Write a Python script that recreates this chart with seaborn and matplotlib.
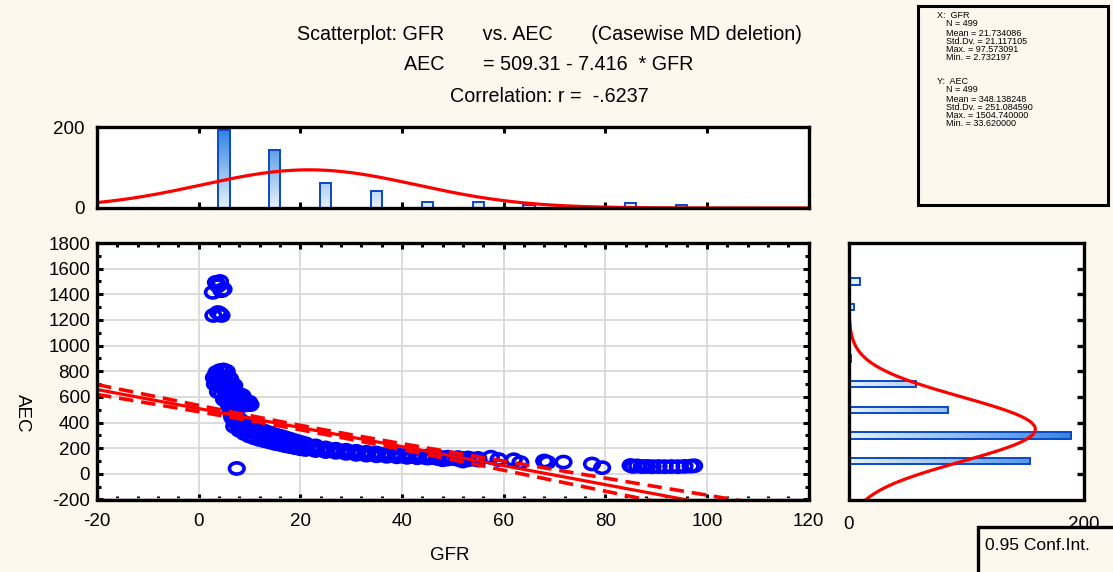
import numpy as np
import matplotlib
matplotlib.use("Agg")
import matplotlib.pyplot as plt
import seaborn as sns
from matplotlib.path import Path
from matplotlib.patches import Rectangle
from matplotlib.colors import LinearSegmentedColormap
from matplotlib.ticker import MultipleLocator

# ---------------- data ----------------
# scatter points (GFR, AEC)
gfr_values = [
    2.8, 3.4, 3.8, 4.5, 4.2, 4.9,
    2.9, 3.8, 4.5, 4.2,
    3.5, 4.2, 4.9, 5.5,
    3.0, 3.6, 4.3, 5.0, 5.8, 6.2,
    3.2, 3.9, 4.6, 5.3, 6.0, 6.6, 7.0,
    3.8, 4.5, 5.2, 5.9, 6.6, 7.3, 8.0, 8.6,
    5.0, 5.7, 6.4, 7.1, 7.8, 8.5, 9.2, 9.9,
    6.0, 6.8, 7.5, 8.2, 8.9, 9.6, 10.2,
    6.3, 6.5, 6.6,
    # band upper row
    7, 8, 9, 10, 11, 12, 13, 14, 15, 16, 17, 18, 19, 20, 21, 23, 25, 27, 29, 31, 33, 35, 37, 39, 41, 43, 45, 47, 49, 51, 53, 55,
    # band lower row
    7, 8, 9, 10, 11, 12, 13, 14, 15, 16, 17, 18, 19, 20, 21, 23, 25, 27, 29, 31, 33, 35, 37, 39, 41, 43, 45, 47, 49, 51, 53, 55,
    # band middle row
    7, 8, 9, 10, 11, 12, 13, 14, 15, 16, 17, 18, 19, 20, 21, 23, 25, 27, 29, 31, 33, 35, 37, 39, 41, 43, 45, 47, 49, 51, 53, 55,
    # band middle row, half steps
    7.5, 8.5, 9.5, 10.5, 11.5, 12.5, 13.5, 14.5, 15.5, 16.5, 17.5, 18.5, 19.5, 22, 24, 26, 28, 30, 32, 34, 36, 38, 40, 42, 44, 46, 48, 50, 52, 54,
    # tail
    48, 52, 57.5, 59, 62, 63.3, 68.0, 68.6, 71.8, 77.4, 79.4,
    85.0, 85.5, 86.3, 87.2, 88.2, 89.3, 90.5, 91.7, 93.0, 94.3, 95.6, 96.8, 97.5,
    # outlier
    7.5,
]
aec_values = [
    1415, 1493, 1467, 1428, 1500, 1440,
    1235, 1258, 1235, 1248,
    790, 805, 810, 800,
    750, 760, 745, 755, 760, 740,
    700, 690, 705, 700, 690, 700, 690,
    640, 630, 645, 635, 640, 630, 620, 610,
    580, 570, 585, 575, 580, 570, 565, 560,
    530, 520, 525, 530, 535, 540, 540,
    500, 470, 440,
    455, 425, 400, 378, 360, 345, 332, 318, 305, 294, 282, 270, 258, 246, 235, 218, 202, 192, 184, 176, 168, 162, 156, 150, 146, 142, 138, 134, 130, 127, 124, 120,
    370, 340, 315, 295, 280, 268, 258, 248, 238, 230, 220, 212, 204, 196, 190, 182, 174, 168, 160, 152, 146, 141, 137, 133, 129, 126, 123, 120, 116, 113, 110, 107,
    412, 382, 358, 336, 320, 306, 295, 283, 272, 262, 251, 241, 231, 221, 212, 200, 188, 180, 172, 164, 157, 152, 146, 142, 138, 134, 130, 127, 123, 120, 117, 114,
    395, 370, 347, 328, 313, 300, 289, 277, 267, 256, 246, 236, 226, 206, 194, 184, 176, 168, 160, 154, 149, 144, 140, 136, 132, 128, 125, 121, 118, 115,
    110, 100, 130, 112, 110, 88, 100, 90, 92, 77, 48,
    65, 58, 62, 57, 58, 56, 57, 56, 57, 56, 58, 60, 63,
    42,
]

# histogram of GFR (bin centres, counts)
gfr_bin_centers = [5, 15, 25, 35, 45, 55, 65, 75, 85, 95]
gfr_bin_counts = [192, 142, 62, 43, 16, 16, 7, 2, 12, 7]

# histogram of AEC (bin centres, counts)
aec_bin_centers = [100, 300, 500, 700, 900, 1100, 1300, 1500]
aec_bin_counts = [154, 189, 84, 57, 2, 0, 4, 9]

# descriptive statistics shown in the box
n_obs = 499
gfr_mean, gfr_sd, gfr_max, gfr_min = 21.734086, 21.117105, 97.573091, 2.732197
aec_mean, aec_sd, aec_max, aec_min = 348.138248, 251.084590, 1504.740000, 33.620000
intercept, slope, corr_r = 509.31, -7.416, -0.6237
gfr_binwidth, aec_binwidth = 10, 200

# ---------------- style ----------------
FONT = ["Liberation Sans", "DejaVu Sans"]
plt.rcParams["font.family"] = FONT
plt.rcParams["axes.unicode_minus"] = False
BG = "#fdf8ed"
BLUE = "#0000ff"
RED = "#ff0000"
EDGE = "#0a48c8"
W, H = 1113, 572
TS = 13.5

fig = plt.figure(figsize=(W / 100, H / 100), dpi=100, facecolor=BG)
ax = fig.add_axes([97 / W, 1 - 499.5 / H, 711.5 / W, 256.5 / H])
ax_top = fig.add_axes([97 / W, 1 - 208 / H, 711.5 / W, 81 / H])
ax_r = fig.add_axes([849 / W, 1 - 499.5 / H, 235 / W, 256.5 / H])

for a in (ax, ax_top, ax_r):
    a.set_facecolor("white")
    for s in a.spines.values():
        s.set_linewidth(2.4)
        s.set_color("black")
        s.set_zorder(6)

# ---------------- main scatter ----------------
circ = Path.unit_circle()
ellipse = Path(circ.vertices * np.array([1.3, 1.0]), circ.codes)

sns.scatterplot(x=gfr_values, y=aec_values, marker=ellipse, s=110,
                facecolor="none", edgecolor=BLUE, linewidth=2.6,
                ax=ax, zorder=3, legend=False)

xs = np.linspace(-20, 120, 300)
yhat = intercept + slope * xs
t_crit = 1.9648
s_res = aec_sd * np.sqrt((1 - corr_r ** 2) * (n_obs - 1) / (n_obs - 2))
sxx = (n_obs - 1) * gfr_sd ** 2
se = s_res * np.sqrt(1 / n_obs + (xs - gfr_mean) ** 2 / sxx)
sns.lineplot(x=xs, y=yhat, color=RED, linewidth=2.3, ax=ax, zorder=4,
             sort=False, estimator=None)
sns.lineplot(x=xs, y=yhat + t_crit * se, color=RED, linewidth=2.6, ax=ax, zorder=4,
             linestyle=(0, (4.0, 2.2)), sort=False, estimator=None)
sns.lineplot(x=xs, y=yhat - t_crit * se, color=RED, linewidth=2.6, ax=ax, zorder=4,
             linestyle=(0, (4.0, 2.2)), sort=False, estimator=None)

ax.set_xlim(-20, 120)
ax.set_ylim(-200, 1800)
ax.set_xticks(np.arange(-20, 121, 20))
ax.set_yticks(np.arange(-200, 1801, 200))
ax.xaxis.set_minor_locator(MultipleLocator(4))
ax.yaxis.set_minor_locator(MultipleLocator(100))
ax.tick_params(which="both", direction="in", top=True, right=True,
               width=2.2, color="black", labelsize=TS)
ax.tick_params(which="major", length=4.5)
ax.tick_params(which="minor", length=3)
ax.tick_params(axis="x", pad=10)
ax.tick_params(axis="y", pad=5)
ax.grid(True, which="major", color="#d9d9d9", linewidth=1.3)
ax.set_axisbelow(True)
ax.set_xlabel("")
ax.set_ylabel("")

# ---------------- gradient helper ----------------
cmap = LinearSegmentedColormap.from_list("bb", ["#e6f1fc", "#2c80e2"])


def shade_bars(a, vertical, vmax):
    for p in list(a.patches):
        x0, y0, w, h = p.get_x(), p.get_y(), p.get_width(), p.get_height()
        if w == 0 or h == 0:
            continue
        if vertical:
            grad = np.linspace(0, (y0 + h) / vmax, 60).reshape(-1, 1)
        else:
            grad = np.linspace(0, (x0 + w) / vmax, 60).reshape(1, -1)
        a.imshow(grad, cmap=cmap, vmin=0, vmax=1, extent=[x0, x0 + w, y0, y0 + h],
                 origin="lower", aspect="auto", interpolation="bilinear", zorder=1.5)
        p.set_facecolor("none")
        p.set_zorder(2)


# ---------------- top histogram ----------------
sns.barplot(x=gfr_bin_centers, y=gfr_bin_counts, native_scale=True, width=0.22,
            color="#7db7ee", edgecolor=EDGE, linewidth=1.4, errorbar=None, ax=ax_top)
shade_bars(ax_top, True, 200)
gx = np.linspace(-20, 120, 300)
gpdf = n_obs * gfr_binwidth / (gfr_sd * np.sqrt(2 * np.pi)) * np.exp(-0.5 * ((gx - gfr_mean) / gfr_sd) ** 2)
sns.lineplot(x=gx, y=gpdf, color=RED, linewidth=2.3, ax=ax_top, zorder=4,
             sort=False, estimator=None)
ax_top.set_xlim(-20, 120)
ax_top.set_ylim(0, 200)
ax_top.set_xticks(np.arange(-20, 121, 20))
ax_top.set_yticks([0, 200])
ax_top.tick_params(axis="x", which="both", direction="in", top=True, bottom=True,
                   labelbottom=False, length=4.5, width=2.2)
ax_top.tick_params(axis="y", length=0, labelsize=TS, pad=9)
ax_top.set_xlabel("")
ax_top.set_ylabel("")

# ---------------- right histogram ----------------
sns.barplot(x=aec_bin_counts, y=aec_bin_centers, orient="y", native_scale=True, width=0.25,
            color="#7db7ee", edgecolor=EDGE, linewidth=1.4, errorbar=None, ax=ax_r)
shade_bars(ax_r, False, 200)
ay = np.linspace(-200, 1800, 400)
apdf = n_obs * aec_binwidth / (aec_sd * np.sqrt(2 * np.pi)) * np.exp(-0.5 * ((ay - aec_mean) / aec_sd) ** 2)
sns.lineplot(x=apdf, y=ay, color=RED, linewidth=2.3, ax=ax_r, zorder=4,
             sort=False, estimator=None, orient="y")
ax_r.set_xlim(0, 200)
ax_r.set_ylim(-200, 1800)
ax_r.set_xticks([0, 200])
ax_r.set_yticks(np.arange(0, 1601, 200))
ax_r.tick_params(axis="x", length=0, labelsize=TS, pad=12)
ax_r.tick_params(axis="y", direction="in", left=False, right=True, labelleft=False,
                 length=5, width=2.4)
ax_r.set_xlabel("")
ax_r.set_ylabel("")

# ---------------- texts ----------------
TT = 14.2
fig.text(549 / W, 1 - 34 / H, "Scatterplot: GFR       vs. AEC       (Casewise MD deletion)",
         ha="center", va="center", fontsize=TT)
fig.text(549 / W, 1 - 64 / H, "AEC       = 509.31 - 7.416  * GFR",
         ha="center", va="center", fontsize=TT)
fig.text(549 / W, 1 - 96 / H, "Correlation: r =  -.6237",
         ha="center", va="center", fontsize=TT)
fig.text(450 / W, 1 - 555 / H, "GFR", ha="center", va="center", fontsize=TS)
fig.text(22 / W, 1 - 413 / H, "AEC", ha="center", va="center", fontsize=TS, rotation=-90)

# stats box
fig.patches.append(Rectangle((918 / W, 1 - 205 / H), 190 / W, 199 / H, transform=fig.transFigure,
                             facecolor=BG, edgecolor="black", linewidth=2.2, zorder=5))
stat_lines = [
    (937, 15, "X:  GFR"),
    (946, 24, f"N = {n_obs}"),
    (946, 33, f"Mean = {gfr_mean:.6f}"),
    (946, 41, f"Std.Dv. = {gfr_sd:.6f}"),
    (946, 49, f"Max. = {gfr_max:.6f}"),
    (946, 57, f"Min. = {gfr_min:.6f}"),
    (937, 82, "Y:  AEC"),
    (946, 90, f"N = {n_obs}"),
    (946, 99, f"Mean = {aec_mean:.6f}"),
    (946, 107, f"Std.Dv. = {aec_sd:.6f}"),
    (946, 115, f"Max. = {aec_max:.6f}"),
    (946, 123, f"Min. = {aec_min:.6f}"),
]
for x, y, s in stat_lines:
    fig.text(x / W, 1 - y / H, s, ha="left", va="center", fontsize=6.5, zorder=6)

# confidence interval box
fig.patches.append(Rectangle((978 / W, -0.05), 140 / W, (572 - 527) / H + 0.05,
                             transform=fig.transFigure, facecolor=BG, edgecolor="black",
                             linewidth=2.4, zorder=5))
fig.text(985 / W, 1 - 545 / H, "0.95 Conf.Int.", ha="left", va="center", fontsize=12.5, zorder=6)

fig.savefig("out.png", dpi=100, facecolor=BG)
